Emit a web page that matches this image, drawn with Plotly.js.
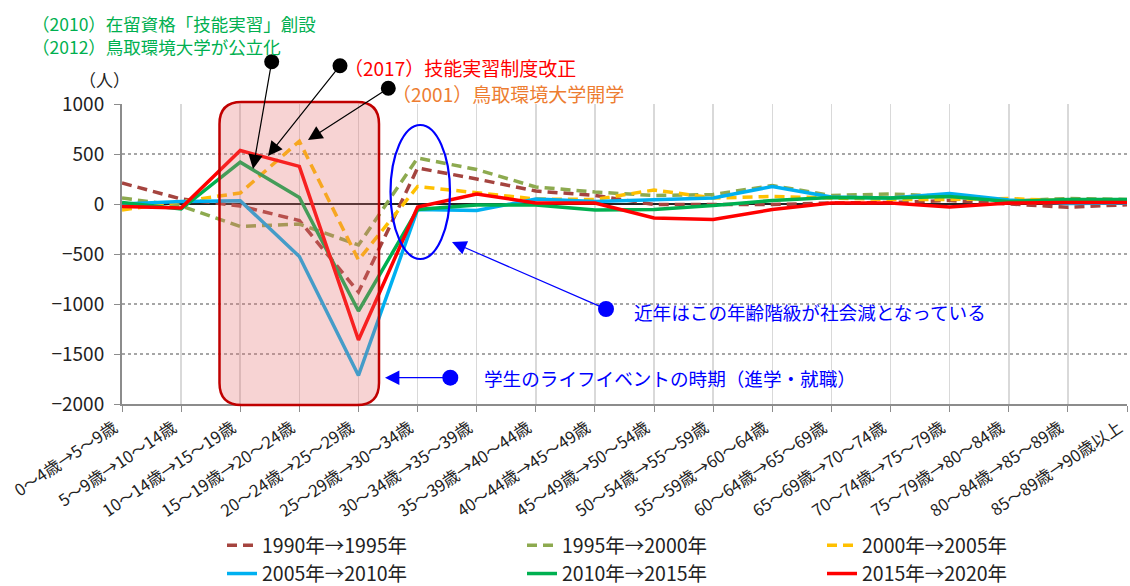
<!DOCTYPE html>
<html>
<head>
<meta charset="utf-8">
<script src="https://cdn.plot.ly/plotly-3.0.1.min.js"></script>
<style>html,body{margin:0;padding:0;background:#fff;}#chart{width:1130px;height:586px;}</style>
</head>
<body>
<div id="chart"></div>
<script>
// ---- data ----
const categories = [
  "0～4歳→5～9歳","5～9歳→10～14歳","10～14歳→15～19歳","15～19歳→20～24歳",
  "20～24歳→25～29歳","25～29歳→30～34歳","30～34歳→35～39歳","35～39歳→40～44歳",
  "40～44歳→45～49歳","45～49歳→50～54歳","50～54歳→55～59歳","55～59歳→60～64歳",
  "60～64歳→65～69歳","65～69歳→70～74歳","70～74歳→75～79歳","75～79歳→80～84歳",
  "80～84歳→85～89歳","85～89歳→90歳以上"
];
const seriesNames = ["1990年→1995年","1995年→2000年","2000年→2005年","2005年→2010年","2010年→2015年","2015年→2020年"];
const s1990_1995 = [210, 50, -20, -165, -880, 360, 250, 130, 85, -5, -5, -5, 10, 15, 35, 0, -33, -7];
const s1995_2000 = [60, -20, -225, -200, -410, 460, 345, 170, 120, 85, 95, 185, 85, 100, 75, 30, 55, 45];
const s2000_2005 = [-60, 25, 110, 628, -560, 175, 115, 50, 45, 140, 60, 75, 60, 45, 45, 55, 30, 35];
const s2005_2010 = [0, 25, 33, -525, -1715, -55, -65, 50, 25, 40, 60, 175, 70, 60, 105, 40, 5, 10];
const s2010_2015 = [15, -50, 418, 65, -1070, -55, -10, -10, -60, -55, -15, 35, 65, 60, 75, 25, 45, 45];
const s2015_2020 = [-25, -40, 535, 376, -1360, -30, 100, 10, 10, -140, -155, -55, 10, 10, -30, 10, 15, 15];
const yTickVals = [1000, 500, 0, -500, -1000, -1500, -2000];

// ---- geometry helpers (pixel -> paper) ----
const L = 122, R = 1127, T = 104, B = 404;
const W = R - L, H = B - T;
const px = x => (x - L) / W;
const py = y => (B - y) / H;
const FONT = '"Noto Sans CJK JP", "Noto Sans", sans-serif';

const styles = [
  {color: "#A5443F", dash: "10px,6px"},
  {color: "#8DAA4F", dash: "10px,6px"},
  {color: "#FFC000", dash: "10px,6px"},
  {color: "#00B0F0", dash: "solid"},
  {color: "#00B050", dash: "solid"},
  {color: "#FF0000", dash: "solid"}
];
const allSeries = [s1990_1995, s1995_2000, s2000_2005, s2005_2010, s2010_2015, s2015_2020];

const traces = allSeries.map((vals, i) => ({
  type: "scatter", mode: "lines",
  x: categories, y: vals, name: seriesNames[i],
  line: {color: styles[i].color, width: 3.5, dash: styles[i].dash},
  hoverinfo: "x+y+name"
}));

// rounded rectangle path (paper coords)
function P(x, y) { return px(x).toFixed(5) + "," + py(y).toFixed(5); }
function roundRect(x0, y0, x1, y1, r) {
  return "M " + P(x0 + r, y0) + " L " + P(x1 - r, y0) + " Q " + P(x1, y0) + " " + P(x1, y0 + r) +
    " L " + P(x1, y1 - r) + " Q " + P(x1, y1) + " " + P(x1 - r, y1) +
    " L " + P(x0 + r, y1) + " Q " + P(x0, y1) + " " + P(x0, y1 - r) +
    " L " + P(x0, y0 + r) + " Q " + P(x0, y0) + " " + P(x0 + r, y0) + " Z";
}
function dot(x, y, r, color) {
  return {type: "circle", xref: "paper", yref: "paper", xsizemode: "pixel", ysizemode: "pixel",
    xanchor: px(x), yanchor: py(y), x0: -r, x1: r, y0: -r, y1: r,
    fillcolor: color, line: {width: 0}, layer: "above"};
}
function arrow(tx, ty, fx, fy, color) {
  return {xref: "paper", yref: "paper", x: px(tx), y: py(ty), ax: fx - tx, ay: fy - ty,
    text: "", showarrow: true, arrowhead: 2, arrowsize: 2.4, arrowwidth: 1.2, arrowcolor: color, standoff: 0};
}
function label(x, y, text, color, size) {
  return {xref: "paper", yref: "paper", x: px(x), y: py(y), xanchor: "left", yanchor: "middle", align: "left",
    text: text, showarrow: false, font: {family: FONT, size: size, color: color}};
}

const shapes = [
  {type: "path", xref: "paper", yref: "paper", path: roundRect(219.5, 102, 379, 405, 22),
   fillcolor: "rgba(230,110,110,0.3)", line: {color: "#C00000", width: 2.5}, layer: "above"},
  {type: "circle", xref: "paper", yref: "paper", x0: px(390.5), x1: px(450), y0: py(259), y1: py(125),
   line: {color: "#0000FF", width: 2.2}, layer: "above"},
  dot(271.7, 61.7, 7.5, "#000"), dot(340, 65.7, 7.5, "#000"), dot(388.3, 88.3, 7.5, "#000"),
  dot(606, 309, 8, "#0000FF"), dot(450.3, 377.7, 8, "#0000FF")
];

const annotations = [
  arrow(253, 169, 271.7, 61.7, "#000"),
  arrow(268, 156, 340, 65.7, "#000"),
  arrow(308, 140, 388.3, 88.3, "#000"),
  arrow(452, 242, 606, 309, "#0000FF"),
  arrow(385, 377.7, 450.3, 377.7, "#0000FF"),
  label(30, 34.5, "（2010）在留資格「技能実習」創設<br>（2012）鳥取環境大学が公立化", "#00B050", 17.5),
  label(342, 67, "（2017）技能実習制度改正", "#FF0000", 19),
  label(390, 93.5, "（2001）鳥取環境大学開学", "#ED7D31", 19),
  label(632, 311, "近年はこの年齢階級が社会減となっている", "#0000FF", 18.6),
  label(482, 377.5, "学生のライフイベントの時期（進学・就職）", "#0000FF", 18.6),
  {xref: "paper", yref: "paper", x: px(104), y: py(80), xanchor: "center", yanchor: "middle",
   text: "（人）", showarrow: false, font: {family: FONT, size: 17, color: "#222"}}
];

const layout = {
  width: 1130, height: 586,
  margin: {l: L, r: 1130 - R, t: T, b: 586 - B, pad: 0},
  paper_bgcolor: "#fff", plot_bgcolor: "#fff",
  font: {family: FONT, color: "#222"},
  showlegend: true,
  legend: {orientation: "h", xref: "container", yref: "container", x: 222 / 1130, y: (586 - 526) / 586,
    xanchor: "left", yanchor: "top", entrywidth: 255, entrywidthmode: "pixels",
    font: {family: FONT, size: 19.5, color: "#222"}, bgcolor: "rgba(0,0,0,0)"},
  xaxis: {type: "category", range: [0, categories.length - 1], showgrid: true, gridcolor: "#D9D9D9", gridwidth: 1.5,
    showline: true, linecolor: "#8C8C8C", linewidth: 2, ticks: "outside", ticklen: 6, tickcolor: "#8C8C8C",
    tickangle: -34, ticklabelshift: -8, tickfont: {family: FONT, size: 16.5, color: "#222"}, zeroline: false, fixedrange: true},
  yaxis: {range: [-2000, 1000], tickvals: yTickVals, showgrid: true, gridcolor: "#A6A6A6", gridwidth: 1.5, griddash: "dot",
    zeroline: true, zerolinecolor: "#222", zerolinewidth: 1.5,
    showline: true, linecolor: "#8C8C8C", linewidth: 2, ticks: "outside", ticklen: 6, tickcolor: "#8C8C8C",
    ticklabelstandoff: 6, tickfont: {family: FONT, size: 19, color: "#222"}, fixedrange: true},
  shapes: shapes, annotations: annotations
};

Plotly.newPlot("chart", traces, layout, {displayModeBar: false, staticPlot: true});
</script>
</body>
</html>
